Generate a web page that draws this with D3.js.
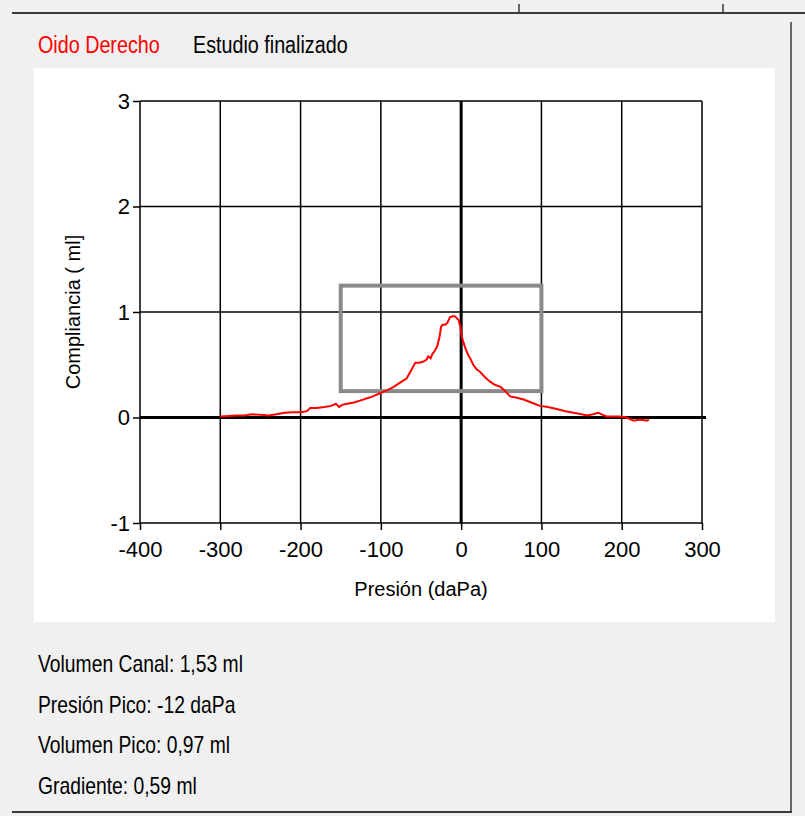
<!DOCTYPE html>
<html>
<head>
<meta charset="utf-8">
<script src="https://cdn.jsdelivr.net/npm/d3@7"></script>
<style>
  body { margin: 0; background: #f0f0f0; }
  svg { display: block; }
  .ui { font-family: "Liberation Sans", Arial, sans-serif; }
  .ax { font-family: "Liberation Sans", Arial, sans-serif; }
</style>
</head>
<body>
<div id="chart"></div>
<script>
// tympanogram samples
const pressure = [-300, -290, -280, -270, -260, -250, -240, -230, -220, -210, -200, -192, -188, -180, -170,
  -162, -156, -152, -148, -142, -135, -126, -118, -110, -101, -92, -84, -76, -68, -62, -57, -52, -47, -43,
  -41, -38, -36, -33, -30, -27, -25, -23, -20, -17, -14, -11, -8, -5, -3, -1, 1, 3, 6, 9, 12, 15, 19, 24,
  30, 36, 42, 49, 55, 61, 68, 78, 88, 98, 108, 119, 130, 140, 150, 157, 164, 171, 175, 181, 190, 198, 206,
  215, 223, 231, 234];
const compliance = [0.01, 0.015, 0.02, 0.02, 0.03, 0.025, 0.02, 0.03, 0.045, 0.05, 0.05, 0.06, 0.09, 0.09, 0.10,
  0.11, 0.13, 0.10, 0.12, 0.13, 0.14, 0.16, 0.18, 0.20, 0.23, 0.26, 0.29, 0.33, 0.37, 0.45, 0.52, 0.52, 0.53, 0.55,
  0.58, 0.56, 0.60, 0.63, 0.67, 0.76, 0.86, 0.88, 0.88, 0.90, 0.95, 0.96, 0.96, 0.94, 0.92, 0.86, 0.76, 0.71, 0.64, 0.59, 0.55, 0.50, 0.46, 0.43,
  0.38, 0.34, 0.31, 0.29, 0.25, 0.20, 0.19, 0.17, 0.14, 0.11, 0.10, 0.08, 0.06, 0.045, 0.03, 0.02, 0.03, 0.045, 0.03, 0.01, 0.01, 0.01, 0.0,
  -0.03, -0.02, -0.03, -0.02];

const xTicks = [-400, -300, -200, -100, 0, 100, 200, 300];
const yTicks = [-1, 0, 1, 2, 3];

// normal range box (pressure, compliance)
const boxPressure = [-150, 100];
const boxCompliance = [0.25, 1.25];

const earLabel = 'Oido Derecho';
const statusLabel = 'Estudio finalizado';
const results = ['Volumen Canal: 1,53 ml', 'Presión Pico: -12 daPa', 'Volumen Pico: 0,97 ml', 'Gradiente: 0,59 ml'];

const width = 805;
const height = 816;
const narrow = 0.84; // the UI font is a condensed one

const svg = d3.select('#chart')
  .append('svg')
  .attr('width', width)
  .attr('height', height);

// window frame bits
svg.append('line').attr('x1', 12).attr('x2', 805).attr('y1', 13).attr('y2', 13)
  .attr('stroke', '#3a3a3a').attr('stroke-width', 2);
[519, 723].forEach(px => {
  svg.append('line').attr('x1', px).attr('x2', px).attr('y1', 4).attr('y2', 12)
    .attr('stroke', '#3a3a3a').attr('stroke-width', 1.5);
});
svg.append('line').attr('x1', 791).attr('x2', 791).attr('y1', 22).attr('y2', 811)
  .attr('stroke', '#3a3a3a').attr('stroke-width', 1.5);
svg.append('line').attr('x1', 12).attr('x2', 792).attr('y1', 812).attr('y2', 812)
  .attr('stroke', '#3a3a3a').attr('stroke-width', 2);

svg.append('text').attr('class', 'ui')
  .attr('transform', `translate(38, 53) scale(${narrow}, 1)`)
  .attr('fill', '#ff0000').style('font-size', '23.5px').text(earLabel);
svg.append('text').attr('class', 'ui')
  .attr('transform', `translate(193, 53) scale(${narrow}, 1)`)
  .attr('fill', '#000').style('font-size', '23.5px').text(statusLabel);

// white plot panel
svg.append('rect').attr('x', 34).attr('y', 68).attr('width', 741).attr('height', 554).attr('fill', '#fff');

const x = d3.scaleLinear().domain([-400, 300]).range([140, 702]);
const y = d3.scaleLinear().domain([-1, 3]).range([523, 101]);

const g = svg.append('g');

// grid
g.selectAll('.vgrid').data(xTicks).enter().append('line')
  .attr('x1', d => x(d)).attr('x2', d => x(d))
  .attr('y1', y(3)).attr('y2', y(-1))
  .attr('stroke', '#000').attr('stroke-width', d => d === 0 ? 3 : 1.5);
g.selectAll('.hgrid').data(yTicks).enter().append('line')
  .attr('x1', x(-400)).attr('x2', d => d === 0 ? x(300) + 4 : x(300))
  .attr('y1', d => y(d)).attr('y2', d => y(d))
  .attr('stroke', '#000').attr('stroke-width', d => d === 0 ? 3 : 1.5);

// axes
const xAxis = g.append('g')
  .attr('class', 'ax')
  .attr('transform', `translate(0, ${y(-1)})`)
  .call(d3.axisBottom(x).tickValues(xTicks).tickSize(7).tickPadding(11).tickFormat(d => String(d)));
const yAxis = g.append('g')
  .attr('class', 'ax')
  .attr('transform', `translate(${x(-400)}, 0)`)
  .call(d3.axisLeft(y).tickValues(yTicks).tickSize(7).tickPadding(3).tickFormat(d => String(d)));

[xAxis, yAxis].forEach(a => {
  a.select('.domain').remove();
  a.selectAll('line').attr('stroke', '#000').attr('stroke-width', 1.5);
  a.selectAll('text').attr('fill', '#000').style('font-size', '22px').attr('font-family', null);
});

// normal range box
g.append('rect')
  .attr('x', x(boxPressure[0]))
  .attr('y', y(boxCompliance[1]))
  .attr('width', x(boxPressure[1]) - x(boxPressure[0]))
  .attr('height', y(boxCompliance[0]) - y(boxCompliance[1]))
  .attr('fill', 'none')
  .attr('stroke', '#8a8a8a')
  .attr('stroke-width', 4);

// curve
const line = d3.line()
  .x(d => x(d[0]))
  .y(d => y(d[1]));

g.append('path')
  .datum(pressure.map((p, i) => [p, compliance[i]]))
  .attr('d', line)
  .attr('fill', 'none')
  .attr('stroke', '#ff0000')
  .attr('stroke-width', 2);

// axis titles
svg.append('text').attr('class', 'ax')
  .attr('x', (x(-400) + x(300)) / 2).attr('y', 596)
  .attr('text-anchor', 'middle').style('font-size', '20px')
  .text('Presión (daPa)');
svg.append('text').attr('class', 'ax')
  .attr('transform', `translate(80, ${(y(3) + y(-1)) / 2}) rotate(-90)`)
  .attr('text-anchor', 'middle').style('font-size', '20px')
  .text('Compliancia ( ml]');

// results
svg.selectAll('.result').data(results).enter().append('text')
  .attr('class', 'ui')
  .attr('transform', (d, i) => `translate(38, ${672 + i * 40.5}) scale(${narrow}, 1)`)
  .style('font-size', '23px')
  .attr('fill', '#000')
  .text(d => d);
</script>
</body>
</html>
